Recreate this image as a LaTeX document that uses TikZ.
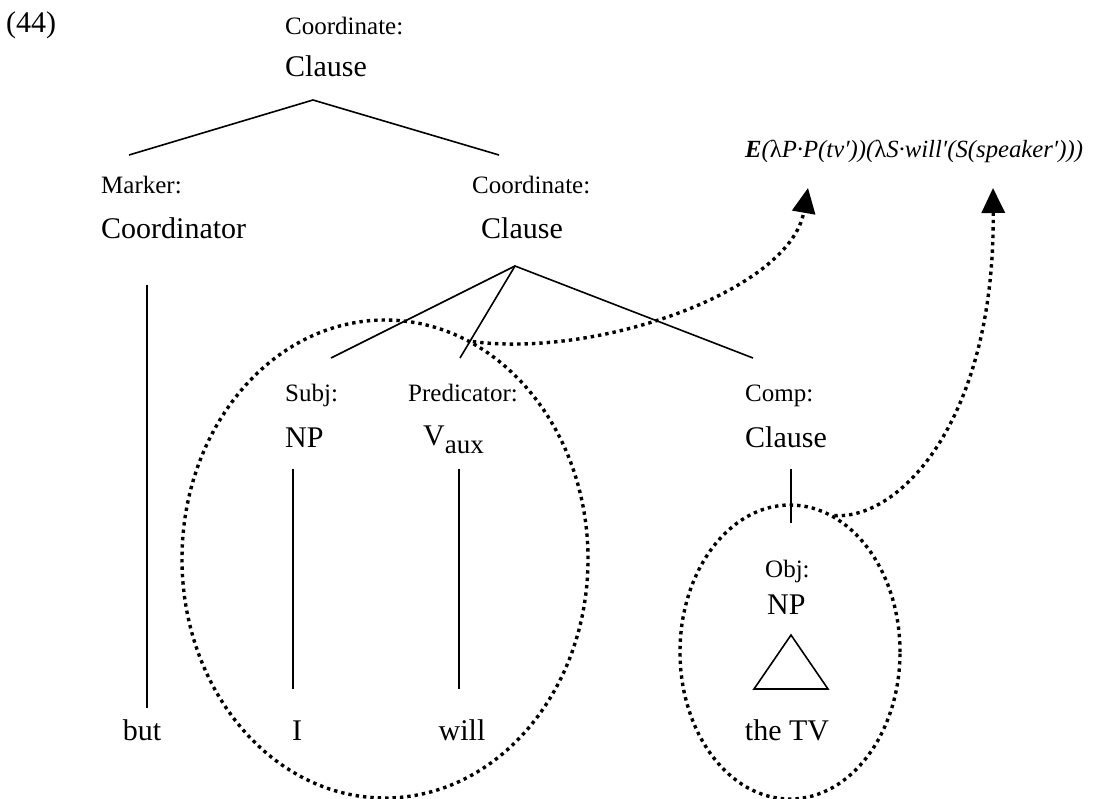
\documentclass[tikz,border=0pt]{standalone}
\usepackage{fontspec}
\setmainfont{Liberation Serif}
\usetikzlibrary{shapes.geometric,arrows.meta}
\newcommand\labfont{\fontsize{25}{30}\selectfont}
\newcommand\catfont{\fontsize{30}{36}\selectfont}
\newcommand\semfont{\fontsize{24.7}{28}\selectfont\itshape}

\begin{document}
\begin{tikzpicture}[x=1pt,y=-1pt,
  lab/.style={inner sep=0pt,anchor=base west,font=\labfont},
  cat/.style={inner sep=0pt,anchor=base west,font=\catfont},
  word/.style={inner sep=0pt,anchor=base,font=\catfont},
  branch/.style={line width=1.6pt},
  dotring/.style={draw,ellipse,inner sep=0pt,line width=3.4pt,dash pattern=on 3.4pt off 4pt},
  dotlink/.style={line width=3.4pt,dash pattern=on 3.4pt off 4pt,-{Triangle[length=25pt,width=23pt]}}]
\useasboundingbox (0,0) rectangle (1102,798);

% example number
\node[cat] (exnum) at (6,32) {(44)};

% root
\node[lab] (root-fn) at (285,34) {Coordinate:};
\node[cat] (root) at (285,76) {Clause};
\coordinate (root-fork) at (313,100);
\coordinate (mark-top) at (129,155);
\coordinate (coord-top) at (499,155);
\draw[branch] (mark-top) -- (root-fork) -- (coord-top);

% marker
\node[lab] (mark-fn) at (101,193) {Marker:};
\node[cat] (mark) at (101,238) {Coordinator};
\coordinate (mark-foot) at (147,285);
\node[word] (w-but) at (142,740) {but};
\coordinate (but-top) at (147,708);
\draw[branch] (mark-foot) -- (but-top);

% second coordinate
\node[lab] (coord-fn) at (472,193) {Coordinate:};
\node[cat] (coord) at (481,238) {Clause};
\coordinate (coord-fork) at (515,266);
\coordinate (subj-top) at (331,358);
\coordinate (pred-top) at (460,358);
\coordinate (comp-top) at (753,358);
\draw[branch] (subj-top) -- (coord-fork) -- (comp-top);
\draw[branch] (coord-fork) -- (pred-top);

% daughters
\node[lab] (subj-fn) at (285,401) {Subj:};
\node[lab] (pred-fn) at (408,401) {Predicator:};
\node[lab] (comp-fn) at (745,401) {Comp:};
\node[cat] (subj) at (285,447) {NP};
\node[cat] (pred) at (423,445) {V\raisebox{-8pt}{\fontsize{27}{30}\selectfont aux}};
\node[cat] (comp) at (745,447) {Clause};

\coordinate (subj-foot) at (293,469);
\coordinate (I-top) at (293,689);
\coordinate (pred-foot) at (459,469);
\coordinate (will-top) at (459,689);
\draw[branch] (subj-foot) -- (I-top);
\draw[branch] (pred-foot) -- (will-top);
\node[word] (w-I) at (297,740) {I};
\node[word] (w-will) at (462,740) {will};

% object inside the complement clause
\coordinate (comp-foot) at (791,469);
\coordinate (obj-top) at (791,523);
\draw[branch] (comp-foot) -- (obj-top);
\node[lab] (obj-fn) at (765,577) {Obj:};
\node[cat] (obj) at (767,614) {NP};
\coordinate (tri-apex) at (791,635);
\coordinate (tri-left) at (754,689);
\coordinate (tri-right) at (828,689);
\draw[branch,line join=miter] (tri-apex) -- (tri-right) -- (tri-left) -- cycle;
\node[word] (w-tv) at (787,740) {the TV};

% semantic formula
\node[inner sep=0pt,anchor=base west,font=\semfont] (sem) at (745,157)
  {\textbf{E}({\upshape λ}P·P(tv′))({\upshape λ}S·will′(S(speaker′)))};
\coordinate (sem-pred) at (808,188);
\coordinate (sem-subj) at (993,188);

% dotted domains and links
\node[dotring,minimum width=406pt,minimum height=478pt] (dom1) at (385,559) {};
\node[dotring,minimum width=220pt,minimum height=294pt] (dom2) at (790,652) {};
\draw[dotlink] (dom1.68) .. controls (600,358) and (790,290) .. (sem-pred);
\draw[dotlink] (dom2.72) .. controls (900,520) and (995,420) .. (sem-subj);
\end{tikzpicture}
\end{document}
